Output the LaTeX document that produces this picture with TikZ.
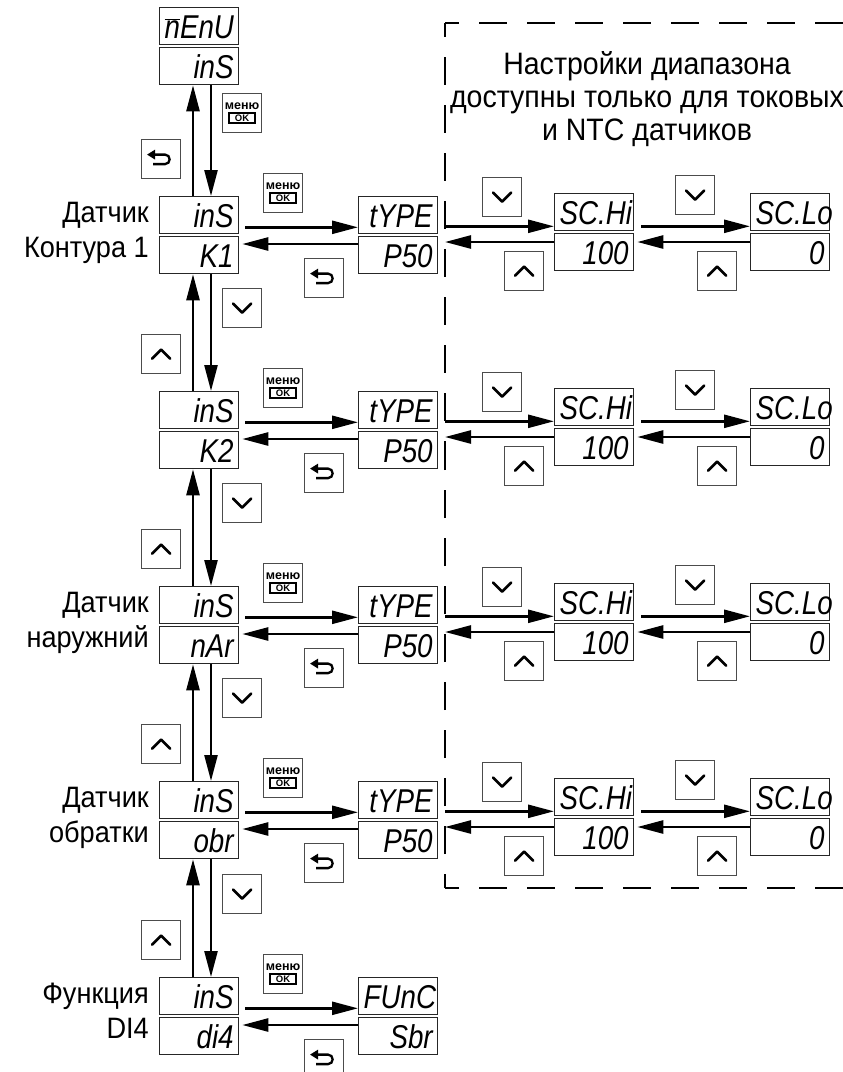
\documentclass[tikz,border=0pt]{standalone}
\usepackage{fontspec}
\setmainfont{Liberation Sans}[FakeStretch=0.92]
\newfontfamily\segfont{Liberation Sans}[FakeStretch=0.84]
\newfontfamily\btnfont{Liberation Sans}
\usetikzlibrary{arrows.meta,calc}
\newcommand\okbox{{\setlength\fboxrule{2pt}\setlength\fboxsep{0.6pt}\fbox{\makebox[23pt]{\fontsize{9.5}{10}\selectfont\bfseries OK}}}}
\newcommand\menutext{{\fontsize{12.5}{13}\selectfont\bfseries меню}\\[0pt]\okbox}
\tikzset{
  disp/.style={draw=black!85, line width=1.3pt, anchor=north west, inner xsep=5pt, inner ysep=3pt,
    text width=69pt, align=right, text height=28pt, text depth=3pt,
    font=\segfont\itshape\fontsize{33}{33}\selectfont},
  btn/.style={draw=black!70, line width=1.2pt, anchor=north west, minimum width=39pt,
    minimum height=39pt, inner sep=0pt, align=center, font=\btnfont},
  arr/.style={line width=2.5pt, -{Triangle[length=26pt,width=13pt]}},
  glyph/.style={line width=2.6pt, line cap=round, line join=round},
  lbl/.style={anchor=north east, align=right, inner sep=0pt, font=\fontsize{29.5}{35}\selectfont},
  ttl/.style={anchor=north, align=center, inner sep=0pt, font=\fontsize{31}{33}\selectfont},
  dashfr/.style={line width=2pt, dash pattern=on 28pt off 20pt, dash phase=14pt},
  pics/dnmark/.style={code={\draw[glyph] (-9,-4.5) -- (0,4.5) -- (9,-4.5);}},
  pics/upmark/.style={code={\draw[glyph] (-9,4.5) -- (0,-4.5) -- (9,4.5);}},
  pics/backmark/.style={code={
    \draw[line width=2.3pt] (-7,-4.5) -- (4,-4.5) .. controls (10,-4.5) and (10,5) .. (4,5) -- (-8,5);
    \fill (-14,-4.5) -- (-6,-9.5) -- (-6,0.5) -- cycle;}},
}
\begin{document}
\begin{tikzpicture}[x=1pt,y=-1pt]
\useasboundingbox (0,0) rectangle (843,1072);
\clip (0,0) rectangle (843,1072);
\fill[white] (0,0) rectangle (843,1072);

% dashed frame
\draw[dashfr] (445,23) -- (900,23);
\draw[dashfr] (445,23) -- (445,455);
\draw[dashfr] (445,888) -- (445,455);
\draw[dashfr] (445,888) -- (900,888);
\coordinate (dsh) at (445,0);
\node[ttl] (title) at (647,51) {Настройки диапазона\\доступны только для токовых\\и NTC датчиков};

% top menu
\node[disp] (menuA) at (159,7) {$\overline{\mbox{n}}$EnU};
\node[disp] (menuB) at (159,47) {inS};
\node[btn] (bk0) at (141,139) {}; \pic at (bk0.center) {backmark};
\node[btn] (ok0) at (222,93) {\menutext};

% labels
\node[lbl] (L1) at (149,202) {Датчик\\Контура 1};
\node[lbl] (L3) at (149,592) {Датчик\\наружний};
\node[lbl] (L4) at (149,787) {Датчик\\обратки};
\node[lbl] (L5) at (149,983) {Функция\\DI4};

\foreach \k/\T/\bot in {1/196/K1,2/391/K2,3/586/nAr,4/781/obr}{
  \node[disp] (a\k) at (159,\T) {inS};
  \node[disp] (b\k) at (159,\T+40) {\bot};
  \node[disp] (t\k) at (358,\T) {tYPE};
  \node[disp] (p\k) at (358,\T+40) {P50};
  \node[disp] (h\k) at (554,\T-3) {SC.Hi};
  \node[disp] (c\k) at (554,\T+37) {100};
  \node[disp] (l\k) at (750,\T-3) {SC.Lo};
  \node[disp] (z\k) at (750,\T+37) {0};
  \node[btn] (ok\k) at (263,\T-23) {\menutext};
  \node[btn] (bk\k) at (304,\T+62) {}; \pic at (bk\k.center) {backmark};
  \node[btn] (dh\k) at (482,\T-19) {}; \pic at (dh\k.center) {dnmark};
  \node[btn] (uh\k) at (504,\T+55) {}; \pic at (uh\k.center) {upmark};
  \node[btn] (dl\k) at (675,\T-21) {}; \pic at (dl\k.center) {dnmark};
  \node[btn] (ul\k) at (697,\T+55) {}; \pic at (ul\k.center) {upmark};
  \draw[arr] ([xshift=6pt,yshift=7pt]a\k.south east) -- ([yshift=7pt]t\k.south west);
  \draw[arr] ([yshift=-8pt]p\k.north west) -- ([xshift=3pt,yshift=-8pt]b\k.north east);
  \coordinate (hr\k) at ([yshift=5pt]h\k.south west);
  \coordinate (cl\k) at ([yshift=-9pt]c\k.north west);
  \draw[arr] (hr\k -| dsh) -- (hr\k);
  \draw[arr] (cl\k) -- (cl\k -| dsh);
  \draw[arr] ([xshift=7pt,yshift=5pt]h\k.south east) -- ([yshift=5pt]l\k.south west);
  \draw[arr] ([yshift=-9pt]z\k.north west) -- ([xshift=3pt,yshift=-9pt]c\k.north east);
}

% row 5
\node[disp] (a5) at (159,977) {inS};
\node[disp] (b5) at (159,1017) {di4};
\node[disp] (f5) at (358,977) {FUnC};
\node[disp] (s5) at (358,1017) {Sbr};
\node[btn] (ok5) at (263,954) {\menutext};
\node[btn] (bk5) at (304,1039) {}; \pic at (bk5.center) {backmark};
\draw[arr] ([xshift=6pt,yshift=7pt]a5.south east) -- ([yshift=7pt]f5.south west);
\draw[arr] ([yshift=-8pt]s5.north west) -- ([xshift=3pt,yshift=-8pt]b5.north east);

% vertical connections
\draw[arr] ([xshift=34pt]a1.north west) -- ([xshift=34pt]menuB.south west);
\draw[arr] ([xshift=52pt]menuB.south west) -- ([xshift=52pt]a1.north west);
\foreach \k/\n/\T in {1/2/391,2/3/586,3/4/781,4/5/977}{
  \draw[arr] ([xshift=34pt]a\n.north west) -- ([xshift=34pt]b\k.south west);
  \draw[arr] ([xshift=52pt]b\k.south west) -- ([xshift=52pt]a\n.north west);
  \node[btn] (u\n) at (141,\T-57) {}; \pic at (u\n.center) {upmark};
  \node[btn] (d\n) at (222,\T-103) {}; \pic at (d\n.center) {dnmark};
}
\end{tikzpicture}
\end{document}
